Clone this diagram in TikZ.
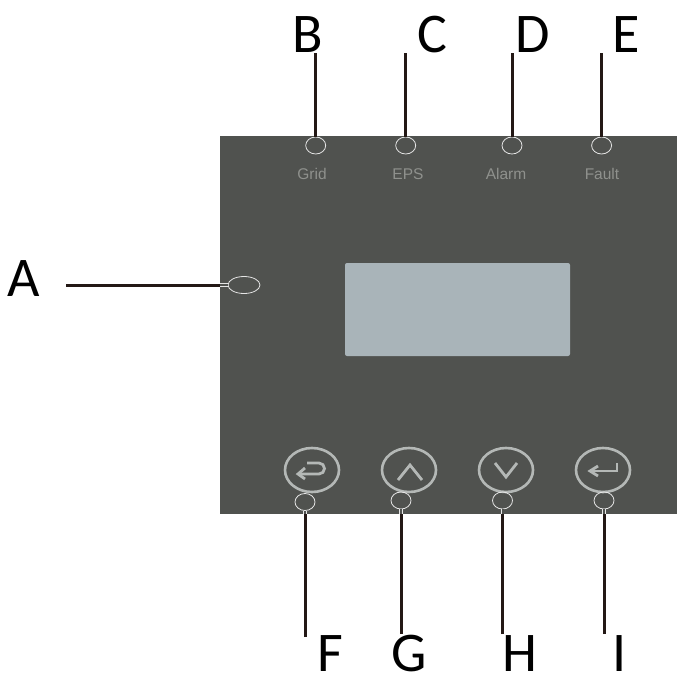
\documentclass[tikz,border=0pt]{standalone}
\usepackage{fontspec}
\setmainfont{Carlito}
\newfontfamily\panelfont{Liberation Sans}
\usetikzlibrary{shapes.geometric}
\definecolor{panelgrey}{HTML}{50524F}
\definecolor{screengrey}{HTML}{A9B4B9}
\definecolor{keygrey}{HTML}{B4B8B6}
\definecolor{capgrey}{HTML}{8F918D}
\definecolor{wire}{HTML}{231815}
\tikzstyle{panel}=[rectangle,fill=panelgrey,inner sep=0pt,minimum width=457pt,minimum height=378pt]
\tikzstyle{screen}=[rectangle,rounded corners=2pt,fill=screengrey,inner sep=0pt,minimum width=225pt,minimum height=93pt]
\tikzstyle{letter}=[inner sep=0pt,text=black,font=\fontsize{56}{56}\selectfont]
\tikzstyle{caption}=[inner sep=0pt,text=capgrey,font=\panelfont\fontsize{15.5}{15.5}\selectfont]
\tikzstyle{led}=[ellipse,draw=white!90!black,line width=0.8pt,inner sep=0pt,minimum width=20pt,minimum height=17pt]
\tikzstyle{key}=[ellipse,draw=keygrey,line width=2.6pt,inner sep=0pt,minimum width=54pt,minimum height=44pt]
\tikzstyle{leader}=[draw=wire,line width=3pt]
\tikzstyle{neck}=[draw=white!90!black,line width=0.7pt,double=panelgrey,double distance=2pt]
\tikzstyle{glyph}=[draw=keygrey,line width=2.8pt]

\begin{document}
\begin{tikzpicture}[x=1pt,y=-1pt]
\useasboundingbox (0,0) rectangle (677,675);
\node[panel]  (panel)  at (448.5,325) {};
\node[screen] (screen) at (457.5,309.5) {};
% letters
\node[letter] (A) at (24,279) {A};
\node[letter] (B) at (308,35) {B};
\node[letter] (C) at (432,35) {C};
\node[letter] (D) at (533,35) {D};
\node[letter] (E) at (626,35) {E};
\node[letter] (F) at (330,654) {F};
\node[letter] (G) at (409,654) {G};
\node[letter] (H) at (520,654) {H};
\node[letter] (I) at (620,654) {I};
% captions
\node[caption] (grid)  at (312,174) {Grid};
\node[caption] (eps)   at (408,174) {EPS};
\node[caption] (alarm) at (506,174) {Alarm};
\node[caption] (fault) at (602,174) {Fault};
% keys
\node[key] (back)  at (312,470) {};
\node[key] (up)    at (409,470) {};
\node[key] (down)  at (506,470) {};
\node[key] (enter) at (603,470) {};
% markers
\node[led] (ledB) at (315.7,145.5) {};
\node[led] (ledC) at (405.7,145.5) {};
\node[led] (ledD) at (512,145.5) {};
\node[led] (ledE) at (601.6,145.5) {};
\node[led] (ledF) at (305,502) {};
\node[led] (ledG) at (401,500.5) {};
\node[led] (ledH) at (502.5,500.5) {};
\node[led] (ledI) at (604,500.5) {};
\node[led,minimum width=32pt] (ledA) at (244,285) {};
% free ends
\coordinate (tipA) at (66,285);
\coordinate (tipB) at (315.7,53);
\coordinate (tipC) at (405.7,53);
\coordinate (tipD) at (512,53);
\coordinate (tipE) at (601.6,53);
\coordinate (tipF) at (305,637);
\coordinate (tipG) at (401,634);
\coordinate (tipH) at (502.5,634);
\coordinate (tipI) at (604,634);
\coordinate (edgeA) at (220,285);
\coordinate (edgeF) at (305,514);
\coordinate (edgeG) at (401,514);
\coordinate (edgeH) at (502.5,514);
\coordinate (edgeI) at (604,514);
\path
(edgeA) edge[neck] (ledA)
(edgeF) edge[neck] (ledF)
(edgeG) edge[neck] (ledG)
(edgeH) edge[neck] (ledH)
(edgeI) edge[neck] (ledI);
\path
(tipA) edge[leader] (edgeA)
(tipB) edge[leader] (ledB)
(tipC) edge[leader] (ledC)
(tipD) edge[leader] (ledD)
(tipE) edge[leader] (ledE)
(tipF) edge[leader] (edgeF)
(tipG) edge[leader] (edgeG)
(tipH) edge[leader] (edgeH)
(tipI) edge[leader] (edgeI);
% key glyphs
\draw[glyph] ([shift={(-5,-7)}]back.center) -- ++(12,0) arc (-90:90:5.5) -- ++(-21,0);
\draw[glyph] ([shift={(-7,-2)}]back.center) -- ([shift={(-14,4)}]back.center) -- ([shift={(-7,9)}]back.center);
\draw[glyph] ([shift={(-11,10)}]up.center) -- ([shift={(1,-5)}]up.center) -- ([shift={(13,10)}]up.center);
\draw[glyph] ([shift={(-11,-7)}]down.center) -- ([shift={(0,7)}]down.center) -- ([shift={(11,-7)}]down.center);
\draw[glyph] ([shift={(14,-7)}]enter.center) -- ([shift={(14,1)}]enter.center) -- ([shift={(-13,1)}]enter.center);
\draw[glyph] ([shift={(-5,-4)}]enter.center) -- ([shift={(-13,1)}]enter.center) -- ([shift={(-5,6)}]enter.center);
\end{tikzpicture}
\end{document}
